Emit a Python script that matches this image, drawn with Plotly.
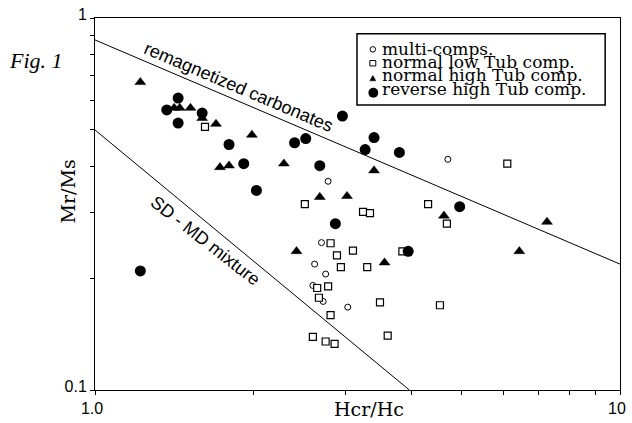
import plotly.graph_objects as go

# ---------------- data ----------------
multi_x = [4.70, 2.78, 2.70, 2.62, 2.75, 2.60, 2.72, 3.03]
multi_y = [0.417, 0.364, 0.249, 0.218, 0.205, 0.191, 0.173, 0.167]

low_x = [1.62, 2.51, 3.24, 3.34, 4.31, 4.68, 6.10, 2.81, 2.89, 3.10, 3.85, 2.94,
         3.30, 2.78, 2.65, 2.67, 3.49, 2.81, 3.61, 4.54, 2.60, 2.75, 2.86]
low_y = [0.510, 0.316, 0.301, 0.299, 0.316, 0.280, 0.406, 0.248, 0.230, 0.237, 0.236, 0.214,
         0.214, 0.190, 0.188, 0.177, 0.172, 0.159, 0.140, 0.169, 0.139, 0.135, 0.133]

high_x = [1.22, 1.415, 1.45, 1.52, 1.60, 1.70, 1.99, 1.73, 1.80, 2.29, 3.40, 2.68,
          3.02, 4.62, 7.26, 6.43, 2.42, 3.56]
high_y = [0.672, 0.573, 0.573, 0.573, 0.538, 0.519, 0.485, 0.397, 0.401, 0.406, 0.389, 0.330,
          0.332, 0.294, 0.283, 0.236, 0.236, 0.220]

rev_x = [1.44, 1.37, 1.44, 1.60, 1.80, 1.92, 2.03, 2.40, 2.52, 2.96, 2.68, 3.27,
         3.40, 3.80, 2.87, 3.95, 4.95, 1.22]
rev_y = [0.609, 0.566, 0.522, 0.555, 0.457, 0.406, 0.344, 0.462, 0.474, 0.545, 0.401, 0.443,
         0.477, 0.435, 0.280, 0.236, 0.311, 0.209]

remag_line_x = [1.0, 10.0]
remag_line_y = [0.873, 0.218]
sdmd_line_x = [1.0, 3.97]
sdmd_line_y = [0.50, 0.10]

series_names = ["multi-comps.", "normal low Tub comp.", "normal high Tub comp.", "reverse high Tub comp."]

x_tickvals = [1, 2, 3, 4, 5, 6, 7, 8, 9, 10]
x_ticktext = ["1.0", "", "", "", "", "", "", "", "", "10"]
y_tickvals = [0.1, 0.2, 0.3, 0.4, 0.5, 0.6, 0.7, 0.8, 0.9, 1.0]
y_ticktext = ["0.1", "", "", "", "", "", "", "", "", "1"]

# ---------------- figure ----------------
W, H = 632, 423
ML, MR, MT, MB = 95, 6, 16, 31
PW, PH = W - ML - MR, H - MT - MB


def px(x):
    return (x - ML) / PW


def py(y):
    return (H - MB - y) / PH


SERIF = "DejaVu Serif"
SANS = "Liberation Sans, Arial, sans-serif"

fig = go.Figure()

fig.add_trace(go.Scatter(x=remag_line_x, y=remag_line_y, mode="lines",
                         line=dict(color="black", width=1), hoverinfo="skip", showlegend=False))
fig.add_trace(go.Scatter(x=sdmd_line_x, y=sdmd_line_y, mode="lines",
                         line=dict(color="black", width=1), hoverinfo="skip", showlegend=False))

fig.add_trace(go.Scatter(x=multi_x, y=multi_y, mode="markers", name=series_names[0],
                         marker=dict(symbol="circle", size=6, color="white",
                                     line=dict(color="black", width=1))))
fig.add_trace(go.Scatter(x=high_x, y=high_y, mode="markers", name=series_names[2],
                         marker=dict(symbol="triangle-up", size=9.5, color="black",
                                     line=dict(color="black", width=0.5))))
fig.add_trace(go.Scatter(x=low_x, y=low_y, mode="markers", name=series_names[1],
                         marker=dict(symbol="square", size=7, color="white",
                                     line=dict(color="black", width=1.2))))
fig.add_trace(go.Scatter(x=rev_x, y=rev_y, mode="markers", name=series_names[3],
                         marker=dict(symbol="circle", size=11, color="black",
                                     line=dict(color="black", width=0))))

axis_common = dict(
    type="log", showgrid=False, zeroline=False, showline=True, linecolor="black",
    linewidth=1, mirror=True, ticks="outside", ticklen=4, tickwidth=1, tickcolor="black",
    tickfont=dict(family=SANS, size=16, color="black"), ticklabeloverflow="allow",
)

fig.update_layout(
    width=W, height=H, autosize=False,
    margin=dict(l=ML, r=MR, t=MT, b=MB),
    paper_bgcolor="white", plot_bgcolor="white",
    showlegend=False,
    xaxis=dict(range=[0, 1], tickmode="array", tickvals=x_tickvals, ticktext=x_ticktext,
               ticklabelshift=-3, **axis_common),
    yaxis=dict(range=[-1, 0], tickmode="array", tickvals=y_tickvals, ticktext=y_ticktext,
               ticklabelshift=-4, **axis_common),
)

annotations = [
    dict(text="<i>Fig. 1</i>", x=px(35), y=py(59), xref="paper", yref="paper", showarrow=False,
         font=dict(family="Liberation Serif", size=22, color="black"), xanchor="center", yanchor="middle"),
    dict(text="Mr/Ms", x=px(68), y=py(191), xref="paper", yref="paper", showarrow=False,
         textangle=-90, font=dict(family=SERIF, size=19, color="black"),
         xanchor="center", yanchor="middle"),
    dict(text="Hcr/Hc", x=px(372), y=py(411), xref="paper", yref="paper", showarrow=False,
         font=dict(family=SERIF, size=19, color="black"), xanchor="center", yanchor="middle"),
    dict(text="remagnetized carbonates", x=px(240), y=py(86), xref="paper", yref="paper",
         showarrow=False, textangle=23, font=dict(family=SANS, size=18, color="black"),
         xanchor="center", yanchor="middle"),
    dict(text="SD - MD mixture", x=px(207), y=py(241), xref="paper", yref="paper",
         showarrow=False, textangle=38, font=dict(family=SANS, size=18, color="black"),
         xanchor="center", yanchor="middle"),
]

legend_rows_y = [47, 60.5, 74, 87.3]
for name, yy in zip(series_names, legend_rows_y):
    annotations.append(dict(text=name, x=px(383), y=py(yy), xref="paper", yref="paper",
                            showarrow=False, xanchor="left", yanchor="middle",
                            font=dict(family=SERIF, size=17, color="black")))

shapes = [
    dict(type="rect", xref="paper", yref="paper", x0=px(360), x1=px(611), y0=py(104), y1=py(32),
         line=dict(color="black", width=1.5), fillcolor="white", layer="below"),
    # legend symbols
    dict(type="circle", xref="paper", yref="paper", x0=px(373.2), x1=px(378.8),
         y0=py(50.5), y1=py(44.9), line=dict(color="black", width=1), fillcolor="white"),
    dict(type="rect", xref="paper", yref="paper", x0=px(373), x1=px(379),
         y0=py(64.5), y1=py(59), line=dict(color="black", width=1), fillcolor="white"),
    dict(type="path", xref="paper", yref="paper",
         path="M {:.5f} {:.5f} L {:.5f} {:.5f} L {:.5f} {:.5f} Z".format(
             px(373), py(79.5), px(379), py(79.5), px(376), py(74)),
         line=dict(color="black", width=0.5), fillcolor="black"),
    dict(type="circle", xref="paper", yref="paper", x0=px(371.5), x1=px(381.5),
         y0=py(96.5), y1=py(86.5), line=dict(color="black", width=0), fillcolor="black"),
]

fig.update_layout(annotations=annotations, shapes=shapes)

fig.write_html("out.html", config={"displayModeBar": False},
               post_script="document.body.style.margin='0px';document.body.style.overflow='hidden';")
